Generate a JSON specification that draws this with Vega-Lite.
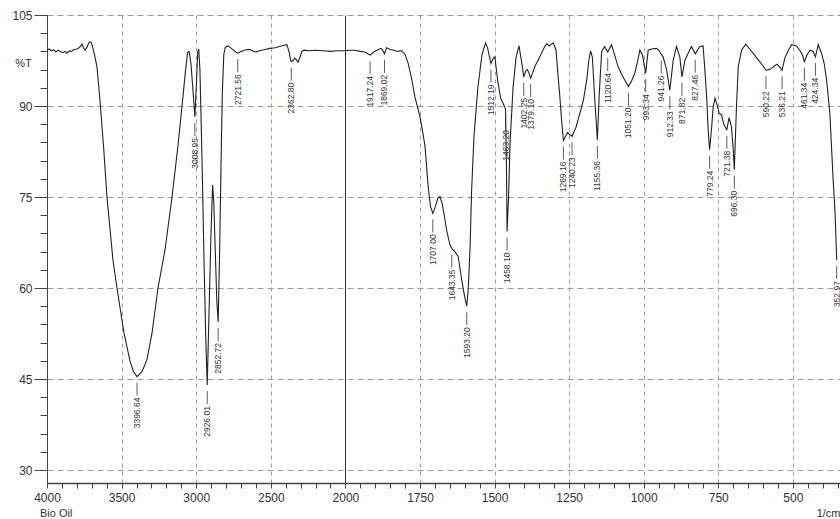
{
  "$schema": "https://vega.github.io/schema/vega-lite/v6.json",
  "width": 793,
  "height": 468,
  "autosize": {"type": "none"},
  "padding": {"left": 47, "top": 15, "right": 0, "bottom": 36},
  "title": {
    "text": "Bio Oil",
    "orient": "bottom",
    "anchor": "start",
    "frame": "group",
    "fontSize": 11,
    "fontWeight": "normal",
    "color": "#333",
    "dx": -7,
    "offset": -10
  },
  "datasets": {
    "spectrum": [
      {"wn": 4000, "T": 99.2}, {"wn": 3985, "T": 99.4}, {"wn": 3970, "T": 99.1}, {"wn": 3955, "T": 99.3},
      {"wn": 3940, "T": 98.9}, {"wn": 3925, "T": 99.2}, {"wn": 3910, "T": 99.0}, {"wn": 3895, "T": 98.8},
      {"wn": 3880, "T": 99.0}, {"wn": 3866, "T": 98.7}, {"wn": 3850, "T": 99.1}, {"wn": 3835, "T": 99.0},
      {"wn": 3820, "T": 99.3}, {"wn": 3800, "T": 99.4}, {"wn": 3785, "T": 99.6}, {"wn": 3772, "T": 99.9},
      {"wn": 3765, "T": 100.2}, {"wn": 3755, "T": 99.6}, {"wn": 3745, "T": 99.2}, {"wn": 3732, "T": 99.7},
      {"wn": 3722, "T": 100.3}, {"wn": 3712, "T": 100.6}, {"wn": 3702, "T": 100.4}, {"wn": 3692, "T": 99.5},
      {"wn": 3680, "T": 98.3}, {"wn": 3665, "T": 96.4}, {"wn": 3645, "T": 91.0}, {"wn": 3620, "T": 83.0},
      {"wn": 3598, "T": 75.0}, {"wn": 3558, "T": 64.6}, {"wn": 3531, "T": 60.0}, {"wn": 3484, "T": 52.6},
      {"wn": 3444, "T": 48.0}, {"wn": 3420, "T": 46.2}, {"wn": 3396.64, "T": 45.4}, {"wn": 3363, "T": 46.2},
      {"wn": 3330, "T": 48.2}, {"wn": 3296, "T": 52.6}, {"wn": 3256, "T": 60.0}, {"wn": 3209, "T": 66.3},
      {"wn": 3162, "T": 75.0}, {"wn": 3122, "T": 83.5}, {"wn": 3095, "T": 90.0}, {"wn": 3075, "T": 95.0},
      {"wn": 3058, "T": 98.8}, {"wn": 3048, "T": 99.0}, {"wn": 3035, "T": 97.0}, {"wn": 3020, "T": 92.0},
      {"wn": 3008.95, "T": 88.2}, {"wn": 2998, "T": 94.0}, {"wn": 2990, "T": 98.8}, {"wn": 2983, "T": 99.4},
      {"wn": 2975, "T": 96.0}, {"wn": 2960, "T": 80.0}, {"wn": 2948, "T": 65.0}, {"wn": 2936, "T": 52.0},
      {"wn": 2926.01, "T": 44.0}, {"wn": 2915, "T": 55.0}, {"wn": 2902, "T": 68.0}, {"wn": 2890, "T": 77.0},
      {"wn": 2882, "T": 74.0}, {"wn": 2872, "T": 66.0}, {"wn": 2862, "T": 58.0}, {"wn": 2852.72, "T": 54.4},
      {"wn": 2843, "T": 66.0}, {"wn": 2834, "T": 80.0}, {"wn": 2825, "T": 92.0}, {"wn": 2815, "T": 98.5},
      {"wn": 2805, "T": 99.7}, {"wn": 2785, "T": 99.9}, {"wn": 2765, "T": 99.5}, {"wn": 2750, "T": 99.2},
      {"wn": 2735, "T": 98.9}, {"wn": 2721.56, "T": 98.7}, {"wn": 2705, "T": 98.9}, {"wn": 2686, "T": 99.1},
      {"wn": 2660, "T": 99.3}, {"wn": 2640, "T": 99.3}, {"wn": 2615, "T": 99.0}, {"wn": 2599, "T": 98.9},
      {"wn": 2575, "T": 99.1}, {"wn": 2539, "T": 99.3}, {"wn": 2505, "T": 99.5}, {"wn": 2472, "T": 99.6},
      {"wn": 2440, "T": 99.8}, {"wn": 2410, "T": 100.0}, {"wn": 2392, "T": 100.1}, {"wn": 2378, "T": 99.0},
      {"wn": 2368, "T": 97.6}, {"wn": 2362.8, "T": 97.3}, {"wn": 2350, "T": 97.5}, {"wn": 2340, "T": 97.9},
      {"wn": 2328, "T": 97.6}, {"wn": 2318, "T": 97.2}, {"wn": 2305, "T": 98.0}, {"wn": 2292, "T": 99.0},
      {"wn": 2278, "T": 99.2}, {"wn": 2240, "T": 99.1}, {"wn": 2204, "T": 99.2}, {"wn": 2150, "T": 99.1},
      {"wn": 2103, "T": 99.0}, {"wn": 2050, "T": 99.1}, {"wn": 2000, "T": 99.1},
      {"wn": 1985, "T": 99.2}, {"wn": 1968, "T": 99.2}, {"wn": 1950, "T": 99.0}, {"wn": 1935, "T": 98.9},
      {"wn": 1925, "T": 98.6}, {"wn": 1917.24, "T": 98.4}, {"wn": 1905, "T": 98.9}, {"wn": 1894, "T": 99.2},
      {"wn": 1881, "T": 99.5}, {"wn": 1875, "T": 99.2}, {"wn": 1869.02, "T": 98.6}, {"wn": 1862, "T": 99.6},
      {"wn": 1850, "T": 99.3}, {"wn": 1837, "T": 99.2}, {"wn": 1825, "T": 99.0}, {"wn": 1811, "T": 99.1},
      {"wn": 1800, "T": 98.5}, {"wn": 1790, "T": 97.1}, {"wn": 1778, "T": 94.5}, {"wn": 1767, "T": 91.5},
      {"wn": 1750, "T": 88.2}, {"wn": 1740, "T": 85.5}, {"wn": 1733, "T": 83.3}, {"wn": 1723, "T": 77.0},
      {"wn": 1715, "T": 73.5}, {"wn": 1707, "T": 72.3}, {"wn": 1700, "T": 73.2}, {"wn": 1690, "T": 74.8},
      {"wn": 1683, "T": 75.1}, {"wn": 1675, "T": 73.8}, {"wn": 1667, "T": 71.5}, {"wn": 1661, "T": 69.6},
      {"wn": 1650, "T": 67.2}, {"wn": 1643.35, "T": 66.5}, {"wn": 1633, "T": 66.0}, {"wn": 1622, "T": 65.2},
      {"wn": 1610, "T": 61.3}, {"wn": 1600, "T": 58.5}, {"wn": 1593.2, "T": 57.0}, {"wn": 1588, "T": 60.0},
      {"wn": 1582, "T": 66.8}, {"wn": 1577, "T": 76.0}, {"wn": 1569, "T": 85.0}, {"wn": 1556, "T": 93.0},
      {"wn": 1542, "T": 98.5}, {"wn": 1530, "T": 100.4}, {"wn": 1523, "T": 99.5}, {"wn": 1512.19, "T": 97.0},
      {"wn": 1505, "T": 97.8}, {"wn": 1499, "T": 98.1}, {"wn": 1489, "T": 94.0}, {"wn": 1479, "T": 91.2},
      {"wn": 1470, "T": 90.3}, {"wn": 1463.2, "T": 89.5}, {"wn": 1460, "T": 80.0}, {"wn": 1458.1, "T": 69.3},
      {"wn": 1453, "T": 75.0}, {"wn": 1448, "T": 84.0}, {"wn": 1438, "T": 93.0}, {"wn": 1428, "T": 98.0},
      {"wn": 1418, "T": 99.9}, {"wn": 1410, "T": 97.5}, {"wn": 1402.25, "T": 94.8}, {"wn": 1395, "T": 95.8},
      {"wn": 1390, "T": 96.0}, {"wn": 1385, "T": 95.5}, {"wn": 1379.1, "T": 94.6}, {"wn": 1372, "T": 95.5},
      {"wn": 1365, "T": 96.5}, {"wn": 1348, "T": 98.1}, {"wn": 1335, "T": 99.5}, {"wn": 1325, "T": 100.3},
      {"wn": 1317, "T": 99.9}, {"wn": 1303, "T": 100.4}, {"wn": 1294, "T": 99.2}, {"wn": 1288, "T": 95.5},
      {"wn": 1281, "T": 91.5}, {"wn": 1275, "T": 87.5}, {"wn": 1269.16, "T": 84.3}, {"wn": 1262, "T": 85.0},
      {"wn": 1255, "T": 85.6}, {"wn": 1248, "T": 85.3}, {"wn": 1240.23, "T": 85.0}, {"wn": 1227, "T": 86.5},
      {"wn": 1214, "T": 88.8}, {"wn": 1202, "T": 91.0}, {"wn": 1191, "T": 94.3}, {"wn": 1184, "T": 97.5},
      {"wn": 1178, "T": 99.1}, {"wn": 1172, "T": 98.0}, {"wn": 1164, "T": 91.0}, {"wn": 1155.36, "T": 84.4},
      {"wn": 1149, "T": 92.0}, {"wn": 1141, "T": 99.0}, {"wn": 1131, "T": 99.8}, {"wn": 1120.64, "T": 98.9},
      {"wn": 1108, "T": 100.1}, {"wn": 1098, "T": 98.5}, {"wn": 1086, "T": 96.5}, {"wn": 1075, "T": 95.3},
      {"wn": 1066, "T": 94.5}, {"wn": 1051.2, "T": 93.2}, {"wn": 1040, "T": 94.2}, {"wn": 1030, "T": 95.4},
      {"wn": 1020, "T": 97.5}, {"wn": 1013, "T": 99.2}, {"wn": 1004, "T": 98.4}, {"wn": 993.34, "T": 95.4},
      {"wn": 985, "T": 99.2}, {"wn": 974, "T": 99.4}, {"wn": 957, "T": 99.5}, {"wn": 948, "T": 99.1},
      {"wn": 941.26, "T": 98.5}, {"wn": 935, "T": 98.1}, {"wn": 923, "T": 95.9}, {"wn": 912.33, "T": 92.6},
      {"wn": 901, "T": 97.6}, {"wn": 890, "T": 99.8}, {"wn": 879, "T": 98.1}, {"wn": 871.82, "T": 94.8},
      {"wn": 862, "T": 97.5}, {"wn": 851, "T": 98.7}, {"wn": 840, "T": 99.8}, {"wn": 827.46, "T": 98.6},
      {"wn": 812, "T": 99.8}, {"wn": 801, "T": 99.9}, {"wn": 795, "T": 96.0}, {"wn": 789, "T": 91.5},
      {"wn": 784, "T": 86.1}, {"wn": 779.24, "T": 82.8}, {"wn": 773, "T": 86.0}, {"wn": 767, "T": 89.9},
      {"wn": 761, "T": 91.3}, {"wn": 754, "T": 90.2}, {"wn": 747, "T": 88.8}, {"wn": 739, "T": 88.5},
      {"wn": 731, "T": 86.9}, {"wn": 721.38, "T": 86.1}, {"wn": 714, "T": 88.1}, {"wn": 706, "T": 86.6},
      {"wn": 700, "T": 83.0}, {"wn": 696.3, "T": 79.5}, {"wn": 689, "T": 90.0}, {"wn": 683, "T": 96.5},
      {"wn": 672, "T": 99.2}, {"wn": 658, "T": 100.2}, {"wn": 648, "T": 99.6}, {"wn": 638, "T": 99.0},
      {"wn": 627, "T": 98.3}, {"wn": 616, "T": 97.6}, {"wn": 603, "T": 96.8}, {"wn": 590.22, "T": 95.9},
      {"wn": 580, "T": 96.0}, {"wn": 571, "T": 96.2}, {"wn": 562, "T": 96.6}, {"wn": 553, "T": 96.9},
      {"wn": 545, "T": 96.5}, {"wn": 536.21, "T": 95.9}, {"wn": 527, "T": 97.9}, {"wn": 515, "T": 99.2},
      {"wn": 504, "T": 100.1}, {"wn": 496, "T": 100.0}, {"wn": 488, "T": 99.9}, {"wn": 477, "T": 99.2},
      {"wn": 468, "T": 98.4}, {"wn": 461.34, "T": 97.3}, {"wn": 452, "T": 98.5}, {"wn": 442, "T": 99.2},
      {"wn": 432, "T": 99.0}, {"wn": 424.34, "T": 98.1}, {"wn": 415, "T": 100.1}, {"wn": 404, "T": 98.7},
      {"wn": 395, "T": 97.0}, {"wn": 387, "T": 94.3}, {"wn": 376, "T": 88.8}, {"wn": 365, "T": 77.8},
      {"wn": 359, "T": 72.9}, {"wn": 352.97, "T": 64.6}
    ],
    "peaks": [
      {"wn": 3396.64, "T": 45.4}, {"wn": 3008.95, "T": 88.2}, {"wn": 2926.01, "T": 44.0},
      {"wn": 2852.72, "T": 54.4}, {"wn": 2721.56, "T": 98.7}, {"wn": 2362.80, "T": 97.3},
      {"wn": 1917.24, "T": 98.4}, {"wn": 1869.02, "T": 98.6}, {"wn": 1707.00, "T": 72.3},
      {"wn": 1643.35, "T": 66.5}, {"wn": 1593.20, "T": 57.0}, {"wn": 1512.19, "T": 97.0},
      {"wn": 1463.20, "T": 89.5}, {"wn": 1458.10, "T": 69.3}, {"wn": 1402.25, "T": 94.8},
      {"wn": 1379.10, "T": 94.6}, {"wn": 1269.16, "T": 84.3}, {"wn": 1240.23, "T": 85.0},
      {"wn": 1155.36, "T": 84.4}, {"wn": 1120.64, "T": 98.9}, {"wn": 1051.20, "T": 93.2},
      {"wn": 993.34, "T": 95.4}, {"wn": 941.26, "T": 98.5}, {"wn": 912.33, "T": 92.6},
      {"wn": 871.82, "T": 94.8}, {"wn": 827.46, "T": 98.6}, {"wn": 779.24, "T": 82.8},
      {"wn": 721.38, "T": 86.1}, {"wn": 696.30, "T": 79.5}, {"wn": 590.22, "T": 95.9},
      {"wn": 536.21, "T": 95.9}, {"wn": 461.34, "T": 97.3}, {"wn": 424.34, "T": 98.1},
      {"wn": 352.97, "T": 64.6}
    ]
  },
  "encoding": {
    "x": {
      "field": "wn",
      "type": "quantitative",
      "scale": {"domain": [4000, 2000, 342], "range": [0, 298.4, 793], "nice": false, "zero": false},
      "axis": {
        "title": "1/cm",
        "titleX": 793,
        "titleY": 30,
        "titleAlign": "right",
        "titleBaseline": "middle",
        "titleFontSize": 11,
        "titleFontWeight": "normal",
        "titleColor": "#333",
        "values": [4000, 3900, 3800, 3700, 3600, 3500, 3400, 3300, 3200, 3100, 3000, 2900, 2800, 2700, 2600, 2500, 2400, 2300, 2200, 2100, 2000, 1950, 1900, 1850, 1800, 1750, 1700, 1650, 1600, 1550, 1500, 1450, 1400, 1350, 1300, 1250, 1200, 1150, 1100, 1050, 1000, 950, 900, 850, 800, 750, 700, 650, 600, 550, 500, 450, 400, 350],
        "format": "d",
        "labelExpr": "(datum.value >= 2000 ? datum.value % 500 == 0 : datum.value % 250 == 0) ? datum.label : ''",
        "labelOverlap": false,
        "labelFlush": false,
        "labelFontSize": 12,
        "labelColor": "#333",
        "labelPadding": 4,
        "tickSize": 5,
        "tickColor": "#444",
        "domainColor": "#444",
        "domainWidth": 1.6,
        "grid": true,
        "gridColor": {"condition": {"test": "datum.value == 2000", "value": "#333"}, "value": "#9a9a9a"},
        "gridDash": {"condition": {"test": "datum.value == 2000", "value": []}, "value": [4, 4]},
        "gridOpacity": {"condition": {"test": "datum.value >= 2000 ? datum.value % 500 == 0 : datum.value % 250 == 0", "value": 1}, "value": 0}
      }
    },
    "y": {
      "field": "T",
      "type": "quantitative",
      "scale": {"domain": [27.86, 105], "nice": false, "zero": false},
      "axis": {
        "title": "%T",
        "titleAngle": 0,
        "titleX": -24,
        "titleY": 48,
        "titleAlign": "center",
        "titleBaseline": "middle",
        "titleFontSize": 11,
        "titleFontWeight": "normal",
        "titleColor": "#333",
        "values": [30, 33, 36, 39, 42, 45, 48, 51, 54, 57, 60, 63, 66, 69, 72, 75, 78, 81, 84, 87, 90, 93, 96, 99, 102, 105],
        "labelExpr": "datum.value % 15 == 0 ? datum.label : ''",
        "labelOverlap": false,
        "labelFlush": false,
        "labelFontSize": 12,
        "labelColor": "#333",
        "labelPadding": 2,
        "tickSize": {"condition": {"test": "datum.value % 15 == 0", "value": 13}, "value": 7},
        "tickColor": "#444",
        "domainColor": "#444",
        "grid": true,
        "gridColor": "#9a9a9a",
        "gridDash": [6, 4],
        "gridOpacity": {"condition": {"test": "datum.value % 15 == 0", "value": 1}, "value": 0}
      }
    }
  },
  "layer": [
    {
      "data": {"name": "spectrum"},
      "mark": {"type": "line", "color": "#222", "strokeWidth": 1.1, "clip": true}
    },
    {
      "data": {"name": "peaks"},
      "mark": {"type": "rule", "color": "#333", "strokeWidth": 0.8, "yOffset": 6, "y2Offset": 19},
      "encoding": {"y2": {"field": "T"}}
    },
    {
      "data": {"name": "peaks"},
      "mark": {"type": "text", "angle": 270, "align": "right", "baseline": "middle", "yOffset": 21, "fontSize": 8.5, "color": "#333"},
      "encoding": {"text": {"field": "wn", "type": "quantitative", "format": ".2f"}}
    }
  ],
  "config": {
    "font": "Liberation Sans",
    "view": {"stroke": null}
  }
}
